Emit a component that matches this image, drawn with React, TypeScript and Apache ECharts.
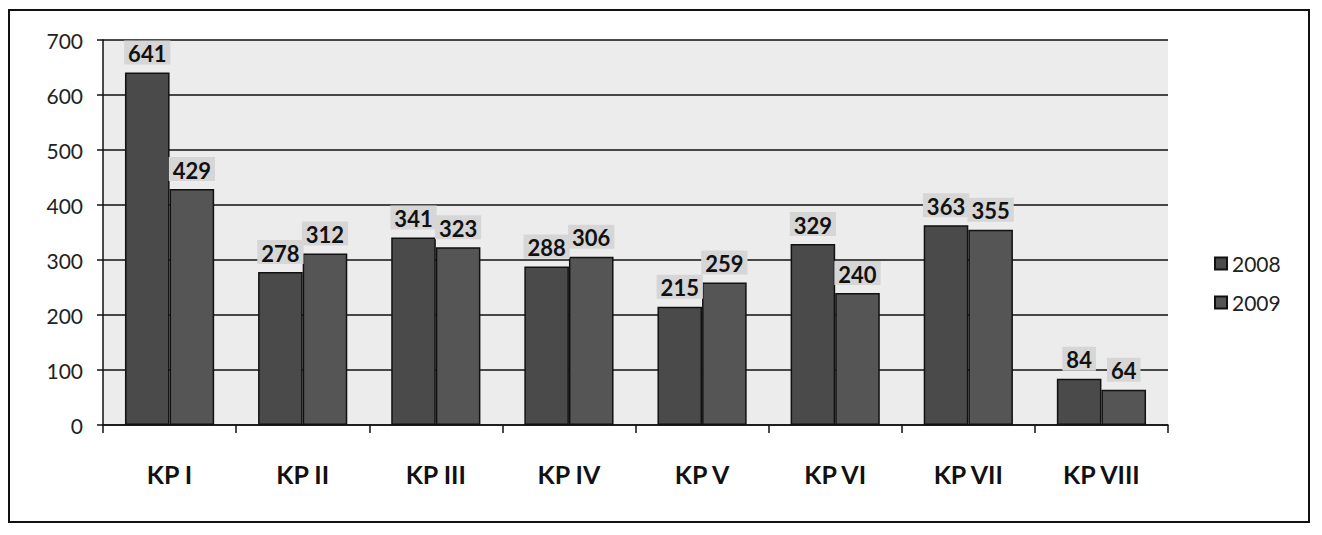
import React, { useEffect, useRef } from "react";
import * as echarts from "echarts";

const categories = ["KP I", "KP II", "KP III", "KP IV", "KP V", "KP VI", "KP VII", "KP VIII"];
const series2008 = [641, 278, 341, 288, 215, 329, 363, 84];
const series2009 = [429, 312, 323, 306, 259, 240, 355, 64];
const seriesNames = ["2008", "2009"];
const yTicks = [0, 100, 200, 300, 400, 500, 600, 700];

const FONT = "Lato, 'Open Sans', sans-serif";

export default function App() {
  const ref = useRef<HTMLDivElement>(null);
  useEffect(() => {
    if (!ref.current) return;
    const chart = echarts.init(ref.current, undefined, { renderer: "svg" });
    const labelStyle = {
      show: true,
      position: "top" as const,
      distance: 8,
      fontFamily: FONT,
      fontWeight: "bold" as const,
      fontSize: 22,
      color: "#111",
      backgroundColor: "#d6d6d6",
      padding: [2, 4, 0, 4],
    };
    chart.setOption({
      animation: false,
      backgroundColor: "#ffffff",
      graphic: [
        {
          type: "rect",
          shape: { x: 1, y: 2, width: 1300, height: 512 },
          style: { fill: "none", stroke: "#111", lineWidth: 2 },
          z: 10,
        },
      ],
      grid: {
        left: 95,
        top: 32,
        width: 1065,
        height: 385,
        show: true,
        backgroundColor: "#ececec",
        borderWidth: 0,
      },
      legend: {
        orient: "vertical",
        left: 1201,
        top: 240,
        itemGap: 18,
        itemWidth: 12,
        itemHeight: 12,
        icon: "rect",
        textStyle: { fontFamily: FONT, fontSize: 21, color: "#222" },
        data: seriesNames,
      },
      xAxis: {
        type: "category",
        data: categories,
        axisLine: { show: true, lineStyle: { color: "#111", width: 1.5 } },
        axisTick: { show: true, length: 8, lineStyle: { color: "#111", width: 1.5 } },
        axisLabel: {
          margin: 36,
          fontFamily: FONT,
          fontWeight: "bold",
          fontSize: 25,
          color: "#111",
        },
      },
      yAxis: {
        type: "value",
        min: yTicks[0],
        max: yTicks[yTicks.length - 1],
        interval: 100,
        axisLine: { show: true, lineStyle: { color: "#111", width: 1.5 } },
        axisTick: { show: true, length: 6, lineStyle: { color: "#111", width: 1.5 } },
        axisLabel: {
          margin: 20,
          fontFamily: FONT,
          fontSize: 21,
          color: "#222",
        },
        splitLine: { show: true, lineStyle: { color: "#111", width: 1.5 } },
      },
      series: [
        {
          name: seriesNames[0],
          type: "bar",
          data: series2008,
          barGap: "0%",
          barCategoryGap: "33%",
          itemStyle: { color: "#4a4a4a", borderColor: "#111", borderWidth: 1.5 },
          label: labelStyle,
        },
        {
          name: seriesNames[1],
          type: "bar",
          data: series2009,
          itemStyle: { color: "#555555", borderColor: "#111", borderWidth: 1.5 },
          label: labelStyle,
        },
      ],
    });
    return () => chart.dispose();
  }, []);
  return <div ref={ref} style={{ width: 1306, height: 519 }} />;
}
